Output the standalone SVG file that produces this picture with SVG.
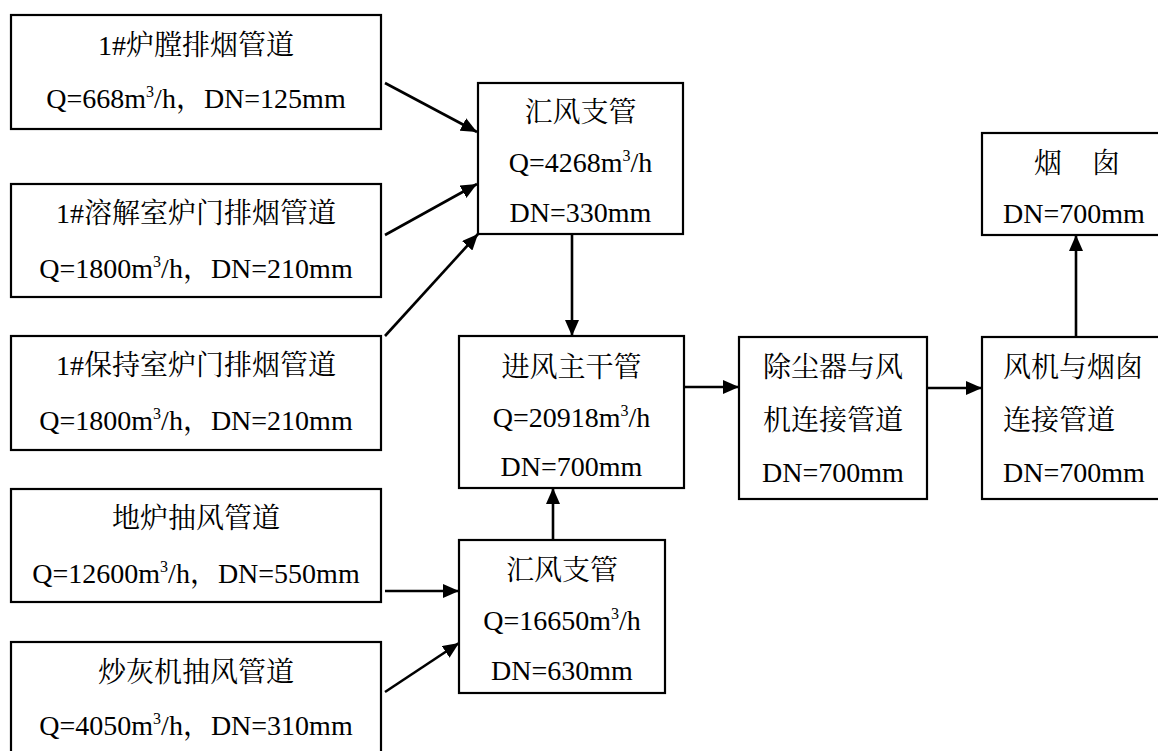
<svg xmlns="http://www.w3.org/2000/svg" width="1158" height="751" viewBox="0 0 1158 751">
<style>
.box{fill:#fff;stroke:#000;stroke-width:2.2}
.t{font-family:"Liberation Serif","Noto Serif CJK SC","Noto Sans CJK SC",serif;font-size:28px;fill:#000}
.c{text-anchor:middle}
.s{font-size:16px}
.ln{stroke:#000;stroke-width:2.6;fill:none;marker-end:url(#ah)}
</style>
<defs>
<marker id="ah" markerUnits="userSpaceOnUse" markerWidth="16" markerHeight="14" refX="16" refY="7" orient="auto">
<path d="M0,0 L16,7 L0,14 z" fill="#000"/>
</marker>
</defs>
<rect width="1158" height="751" fill="#fff"/>
<g id="n1">
<rect class="box" x="11" y="15" width="370" height="114"/>
<text class="t c" x="196" y="55">1#炉膛排烟管道</text>
<text class="t c" x="196" y="108">Q=668m<tspan class="s" dy="-11">3</tspan><tspan dy="11">/h，DN=125mm</tspan></text>
</g>
<g id="n2">
<rect class="box" x="11" y="184" width="370" height="113"/>
<text class="t c" x="196" y="223">1#溶解室炉门排烟管道</text>
<text class="t c" x="196" y="278">Q=1800m<tspan class="s" dy="-11">3</tspan><tspan dy="11">/h，DN=210mm</tspan></text>
</g>
<g id="n3">
<rect class="box" x="11" y="336" width="370" height="114"/>
<text class="t c" x="196" y="375">1#保持室炉门排烟管道</text>
<text class="t c" x="196" y="430">Q=1800m<tspan class="s" dy="-11">3</tspan><tspan dy="11">/h，DN=210mm</tspan></text>
</g>
<g id="n4">
<rect class="box" x="11" y="489" width="370" height="113"/>
<text class="t c" x="196" y="528">地炉抽风管道</text>
<text class="t c" x="196" y="583">Q=12600m<tspan class="s" dy="-11">3</tspan><tspan dy="11">/h，DN=550mm</tspan></text>
</g>
<g id="n5">
<rect class="box" x="11" y="642" width="370" height="120"/>
<text class="t c" x="196" y="682">炒灰机抽风管道</text>
<text class="t c" x="196" y="735">Q=4050m<tspan class="s" dy="-11">3</tspan><tspan dy="11">/h，DN=310mm</tspan></text>
</g>
<g id="n6">
<rect class="box" x="478" y="83" width="205" height="151"/>
<text class="t c" x="580.5" y="122">汇风支管</text>
<text class="t c" x="580.5" y="172">Q=4268m<tspan class="s" dy="-11">3</tspan><tspan dy="11">/h</tspan></text>
<text class="t c" x="580.5" y="222">DN=330mm</text>
</g>
<g id="n7">
<rect class="box" x="459" y="336" width="225" height="152"/>
<text class="t c" x="571.5" y="377">进风主干管</text>
<text class="t c" x="571.5" y="427">Q=20918m<tspan class="s" dy="-11">3</tspan><tspan dy="11">/h</tspan></text>
<text class="t c" x="571.5" y="476">DN=700mm</text>
</g>
<g id="n8">
<rect class="box" x="459" y="540" width="206" height="153"/>
<text class="t c" x="562" y="580">汇风支管</text>
<text class="t c" x="562" y="630">Q=16650m<tspan class="s" dy="-11">3</tspan><tspan dy="11">/h</tspan></text>
<text class="t c" x="562" y="680">DN=630mm</text>
</g>
<g id="n9">
<rect class="box" x="739" y="337" width="188" height="162"/>
<text class="t c" x="833" y="377">除尘器与风</text>
<text class="t c" x="833" y="430">机连接管道</text>
<text class="t c" x="833" y="482">DN=700mm</text>
</g>
<g id="n10">
<rect class="box" x="982" y="337" width="190" height="162"/>
<text class="t" x="1003" y="377">风机与烟囱</text>
<text class="t" x="1003" y="430">连接管道</text>
<text class="t" x="1003" y="482">DN=700mm</text>
</g>
<g id="n11">
<rect class="box" x="982" y="133" width="190" height="102"/>
<text class="t" y="173"><tspan x="1034">烟</tspan><tspan x="1092">囱</tspan></text>
<text class="t" x="1003" y="223">DN=700mm</text>
</g>
<g id="connectors">
<line class="ln" x1="385" y1="83" x2="477" y2="132"/>
<line class="ln" x1="385" y1="235" x2="477" y2="184"/>
<line class="ln" x1="385" y1="336" x2="478" y2="234"/>
<line class="ln" x1="572" y1="234" x2="572" y2="336"/>
<line class="ln" x1="684" y1="387" x2="739" y2="387"/>
<line class="ln" x1="927" y1="388" x2="982" y2="388"/>
<line class="ln" x1="1076" y1="337" x2="1076" y2="235"/>
<line class="ln" x1="553" y1="540" x2="553" y2="488"/>
<line class="ln" x1="385" y1="591" x2="459" y2="591"/>
<line class="ln" x1="385" y1="692" x2="459" y2="643"/>
</g>
</svg>
